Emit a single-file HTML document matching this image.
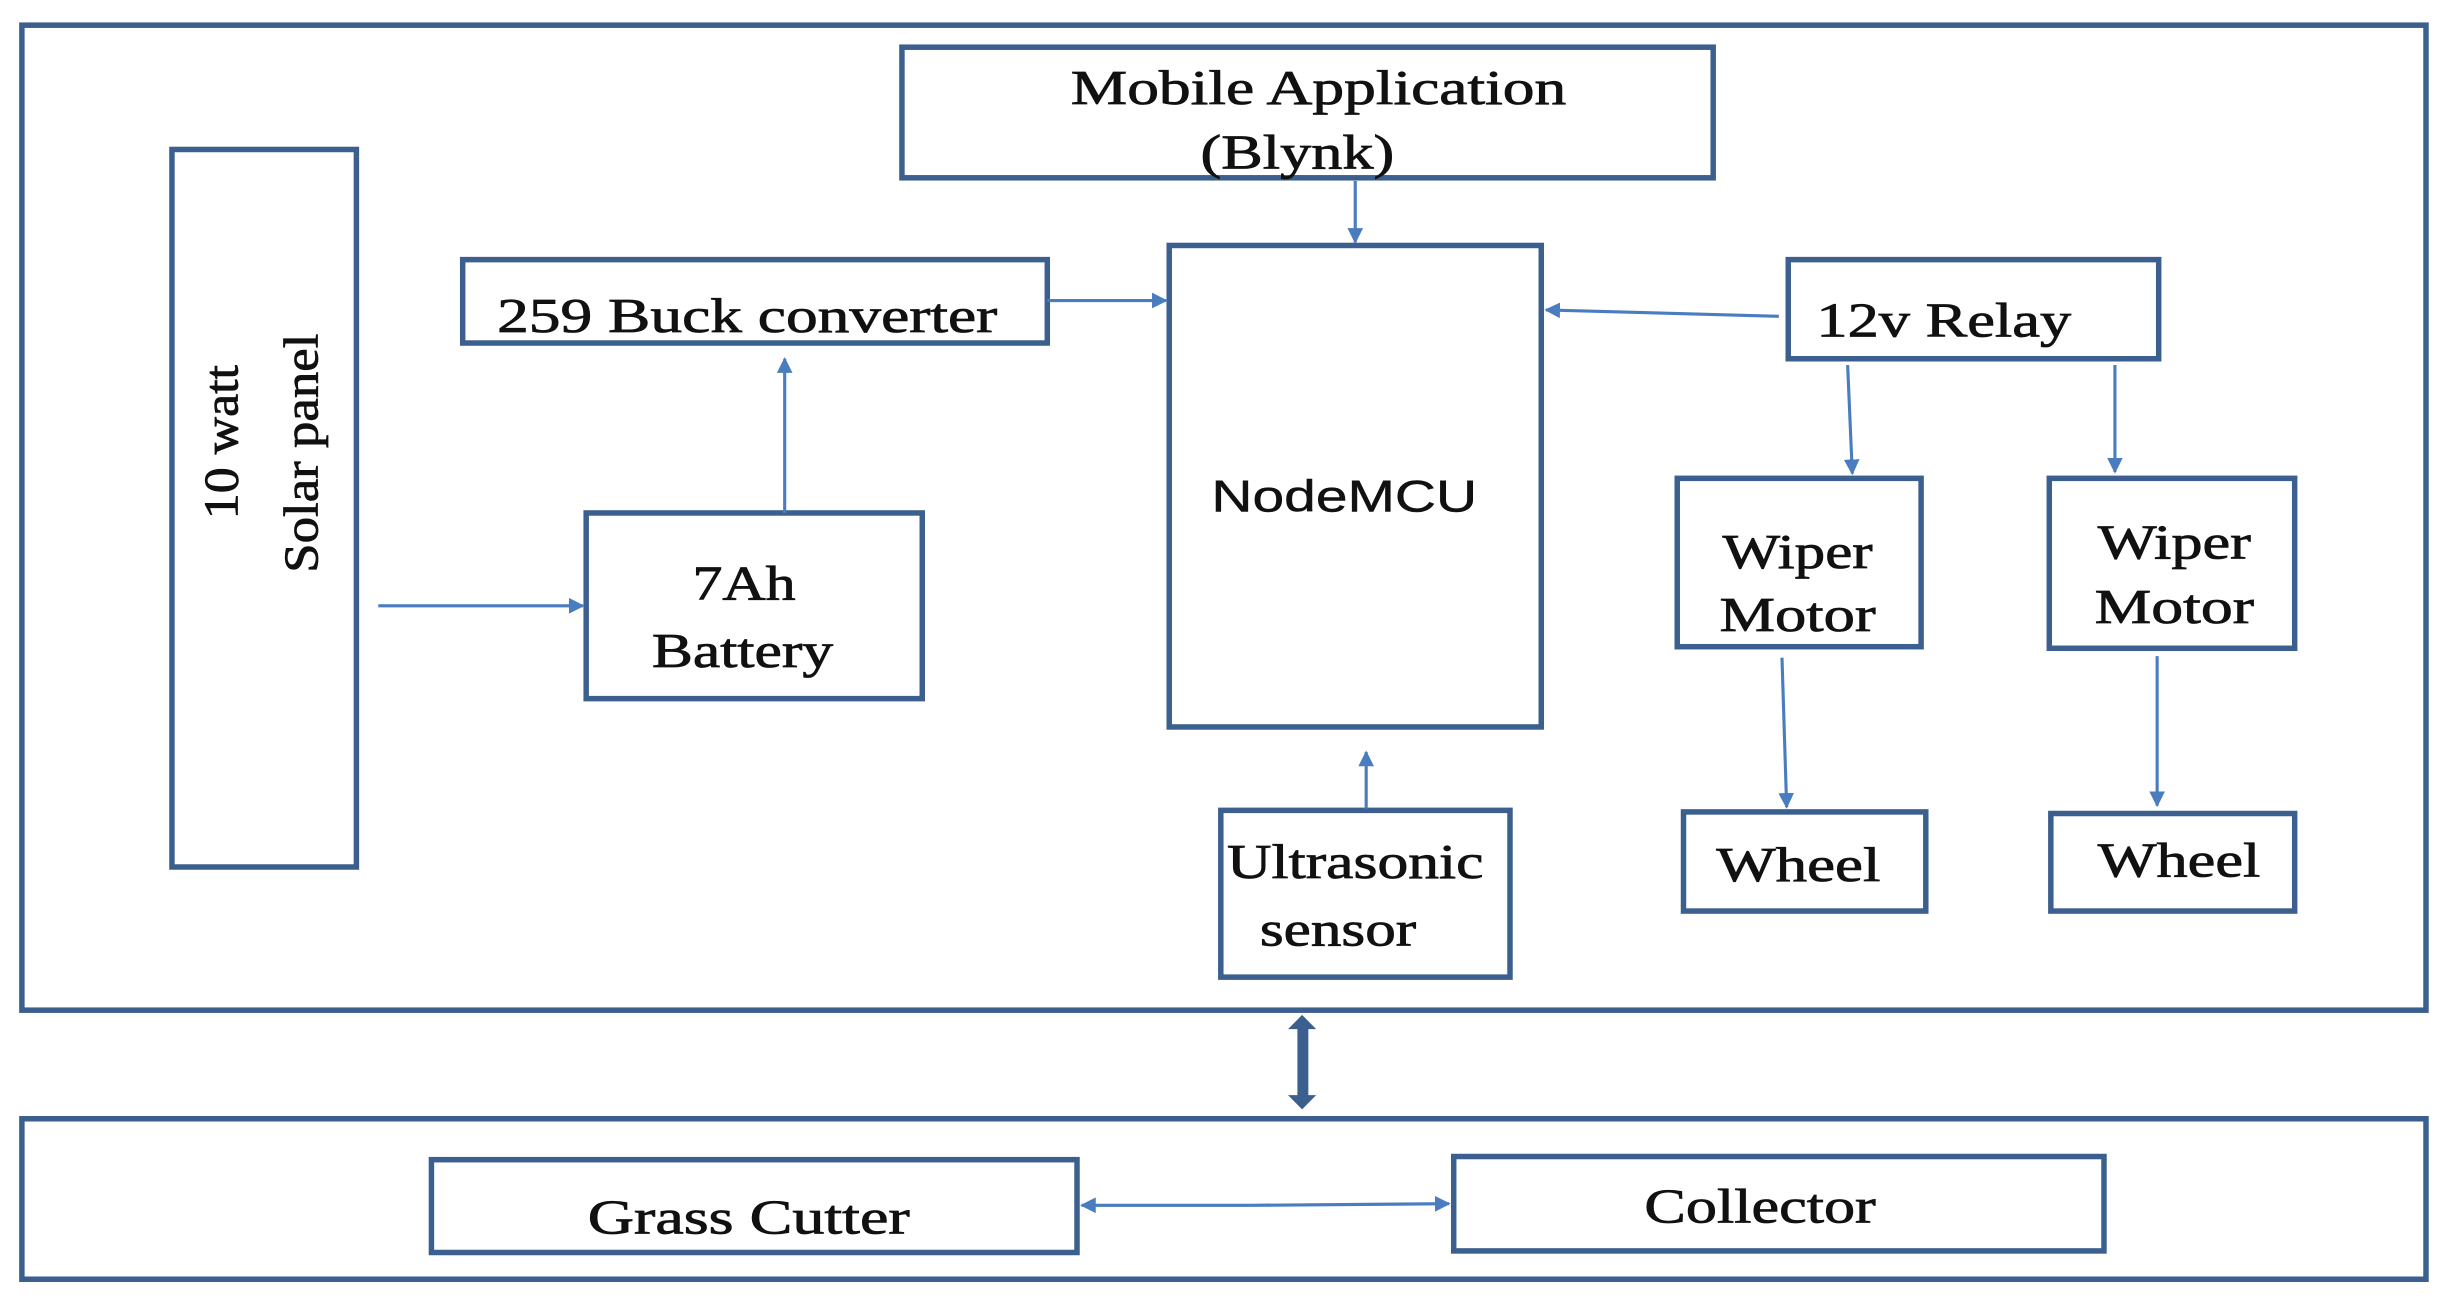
<!DOCTYPE html>
<html><head><meta charset="utf-8"><style>html,body{margin:0;padding:0;background:#fff}svg{display:block}</style></head>
<body>
<svg width="2451" height="1306" viewBox="0 0 1568 830" preserveAspectRatio="none" xmlns="http://www.w3.org/2000/svg">
<defs>
<marker id="a" markerWidth="10" markerHeight="10" refX="9" refY="5" orient="auto" markerUnits="userSpaceOnUse"><path d="M0,0 L10,5 L0,10 z" fill="#4a7dbf"/></marker>
</defs>
<g fill="none" stroke="#3b5f8e" stroke-width="3.5">
<rect x="14" y="16" width="1538" height="626"/>
<rect x="577" y="30" width="519" height="83"/>
<rect x="110" y="95" width="118" height="456"/>
<rect x="296" y="165" width="374" height="53"/>
<rect x="375" y="326" width="215" height="118"/>
<rect x="748" y="156" width="238" height="306"/>
<rect x="1144" y="165" width="237" height="63"/>
<rect x="1073" y="304" width="156" height="107"/>
<rect x="1311" y="304" width="157" height="108"/>
<rect x="1077" y="516" width="155" height="63"/>
<rect x="1312" y="517" width="156" height="62"/>
<rect x="781" y="515" width="185" height="106"/>
<rect x="14" y="711" width="1538" height="102"/>
<rect x="276" y="737" width="413" height="59"/>
<rect x="930" y="735" width="416" height="60"/>
</g>
<g stroke="#4a7dbf" stroke-width="2" marker-end="url(#a)">
<line x1="242" y1="385" x2="373" y2="385"/>
<line x1="502" y1="326" x2="502" y2="228"/>
<line x1="670" y1="191" x2="746" y2="191"/>
<line x1="867" y1="115" x2="867" y2="154"/>
<line x1="1138" y1="201" x2="989" y2="197"/>
<line x1="1182" y1="232" x2="1185" y2="301"/>
<line x1="1353" y1="232" x2="1353" y2="300"/>
<line x1="1140" y1="418" x2="1143" y2="513"/>
<line x1="1380" y1="417" x2="1380" y2="512"/>
<line x1="874" y1="514" x2="874" y2="478"/>
<line x1="800" y1="766" x2="692" y2="766"/>
<line x1="800" y1="766" x2="927" y2="765"/>
</g>
<g fill="#3b5f8e"><rect x="830" y="652" width="7" height="46"/><path d="M824,654 L833,645 L842,654z M824,696 L833,705 L842,696z"/></g>
<g font-family="Liberation Serif, serif" font-size="31" fill="#111" stroke="#111" stroke-width="0.5" lengthAdjust="spacingAndGlyphs">
<text x="685" y="66" textLength="317" lengthAdjust="spacingAndGlyphs">Mobile Application</text>
<text x="768" y="107" textLength="124" lengthAdjust="spacingAndGlyphs">(Blynk)</text>
<text x="318" y="211" textLength="320" lengthAdjust="spacingAndGlyphs">259 Buck converter</text>
<text x="443" y="381" textLength="66" lengthAdjust="spacingAndGlyphs">7Ah</text>
<text x="417" y="424" textLength="116" lengthAdjust="spacingAndGlyphs">Battery</text>
<text x="1162" y="214" textLength="163" lengthAdjust="spacingAndGlyphs">12v Relay</text>
<text x="1102" y="361" textLength="96" lengthAdjust="spacingAndGlyphs">Wiper</text>
<text x="1100" y="401" textLength="100" lengthAdjust="spacingAndGlyphs">Motor</text>
<text x="1342" y="355" textLength="98" lengthAdjust="spacingAndGlyphs">Wiper</text>
<text x="1340" y="396" textLength="102" lengthAdjust="spacingAndGlyphs">Motor</text>
<text x="1098" y="560" textLength="105" lengthAdjust="spacingAndGlyphs">Wheel</text>
<text x="1342" y="557" textLength="104" lengthAdjust="spacingAndGlyphs">Wheel</text>
<text x="785" y="558" textLength="164" lengthAdjust="spacingAndGlyphs">Ultrasonic</text>
<text x="806" y="601" textLength="100" lengthAdjust="spacingAndGlyphs">sensor</text>
<text x="376" y="784" textLength="206" lengthAdjust="spacingAndGlyphs">Grass Cutter</text>
<text x="1052" y="777" textLength="148" lengthAdjust="spacingAndGlyphs">Collector</text>
<text transform="translate(152,330) rotate(-90)" textLength="98" lengthAdjust="spacingAndGlyphs">10 watt</text>
<text transform="translate(203,364) rotate(-90)" textLength="152" lengthAdjust="spacingAndGlyphs">Solar panel</text>
</g>
<text x="775" y="325" textLength="170" lengthAdjust="spacingAndGlyphs" font-family="Liberation Sans, sans-serif" font-size="28" fill="#111" stroke="#111" stroke-width="0.3">NodeMCU</text>
</svg>
</body></html>
